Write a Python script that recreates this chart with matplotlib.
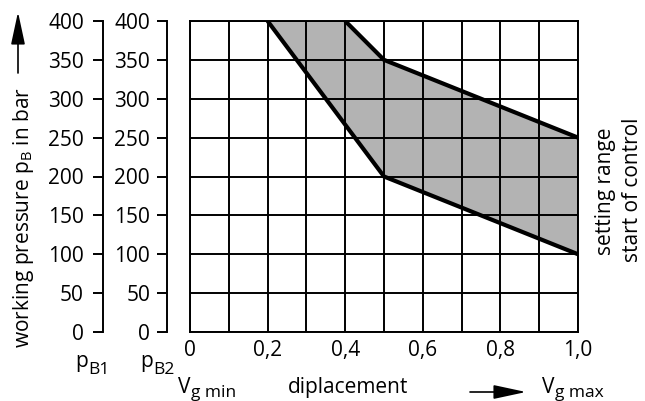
import matplotlib
matplotlib.use("Agg")
import matplotlib.pyplot as plt
from matplotlib.patches import FancyArrowPatch, Polygon

plt.rcParams['font.family'] = ['Open Sans', 'DejaVu Sans']
plt.rcParams['mathtext.fontset'] = 'custom'
plt.rcParams['mathtext.rm'] = 'Open Sans'

# ---- data ----
upper_x = [0.4, 0.5, 1.0]
upper_p = [400, 350, 250]
lower_x = [0.2, 0.5, 1.0]
lower_p = [400, 200, 100]

x_ticks = [0, 0.2, 0.4, 0.6, 0.8, 1.0]
x_tick_labels = ["0", "0,2", "0,4", "0,6", "0,8", "1,0"]
x_grid = [0.1 * i for i in range(11)]
p_ticks = [0, 50, 100, 150, 200, 250, 300, 350, 400]
p_tick_labels = [str(v) for v in p_ticks]

W, H = 645, 401
fig = plt.figure(figsize=(W / 100, H / 100), dpi=100)

def fx(px):
    return px / W

def fy(py):
    return 1 - py / H

FS = 15
SUB = 12.5
LW = 1.4

# main axes
x0, x1, y0, y1 = 190, 578, 332, 21
ax = fig.add_axes([fx(x0), fy(y0), fx(x1) - fx(x0), fy(y1) - fy(y0)])
ax.set_xlim(0, 1.0)
ax.set_ylim(0, 400)
for xv in x_grid:
    ax.axvline(xv, color='black', lw=LW, zorder=3)
for pv in p_ticks:
    ax.axhline(pv, color='black', lw=LW, zorder=3)
for s in ax.spines.values():
    s.set_linewidth(LW)
    s.set_zorder(4)

poly_pts = list(zip(upper_x, upper_p)) + list(zip(lower_x[::-1], lower_p[::-1]))
ax.add_patch(Polygon(poly_pts, closed=True, facecolor='#b3b3b3', edgecolor='none', zorder=2))
ax.plot(upper_x, upper_p, color='black', lw=3.0, zorder=5, solid_capstyle='butt', solid_joinstyle='miter')
ax.plot(lower_x, lower_p, color='black', lw=3.0, zorder=5, solid_capstyle='butt', solid_joinstyle='miter')

ax.set_xticks(x_ticks)
ax.set_xticklabels(x_tick_labels, fontsize=FS)
ax.set_yticks([])
ax.tick_params(axis='x', length=0, pad=5.5)

# pressure scales
def pscale(px, pad):
    a = fig.add_axes([fx(px), fy(y0), 0.001, fy(y1) - fy(y0)])
    a.set_ylim(0, 400)
    a.set_xticks([])
    a.set_yticks(p_ticks)
    a.set_yticklabels(p_tick_labels, fontsize=FS)
    a.tick_params(axis='y', length=7.2, width=LW, pad=pad)
    for k in ['top', 'right', 'bottom']:
        a.spines[k].set_visible(False)
    a.spines['left'].set_linewidth(LW)
    a.patch.set_visible(False)
    return a

pscale(103, 6.5)
pscale(167, 5)

# text with a larger subscript
def sub_text(px, py_base, main, sub, drop=4.0, gap=0.5):
    t = fig.text(fx(px), fy(py_base), main, fontsize=FS, ha='left', va='baseline')
    s = ax.annotate(sub, xy=(1, 0), xycoords=t, xytext=(gap, -drop), textcoords='offset points',
                    fontsize=SUB, ha='left', va='bottom', annotation_clip=False)
    return t, s

sub_text(75, 367, "p", "B1")
sub_text(140, 367, "p", "B2")
sub_text(178, 393, "V", "g min", drop=2.5)
sub_text(542, 393, "V", "g max", drop=2.5)

fig.text(fx(348), fy(393), "diplacement", fontsize=FS, ha='center', va='baseline')
fig.text(fx(24), fy(217), r"working pressure $\mathregular{p_B}$ in bar", fontsize=FS,
         rotation=90, ha='center', va='center')
fig.text(fx(606), fy(191), "setting range", fontsize=FS, rotation=90, ha='center', va='center')
fig.text(fx(633), fy(190), "start of control", fontsize=FS, rotation=90, ha='center', va='center')

# arrows
style = "-|>,head_length=2.0,head_width=0.43"
fig.add_artist(FancyArrowPatch((fx(18), fy(73)), (fx(18), fy(12)), transform=fig.transFigure,
                               arrowstyle=style, mutation_scale=10, color='black', lw=1.2,
                               shrinkA=0, shrinkB=0))
fig.add_artist(FancyArrowPatch((fx(470), fy(392)), (fx(526), fy(392)), transform=fig.transFigure,
                               arrowstyle=style, mutation_scale=10, color='black', lw=1.2,
                               shrinkA=0, shrinkB=0))

fig.savefig("out.png", dpi=100)
